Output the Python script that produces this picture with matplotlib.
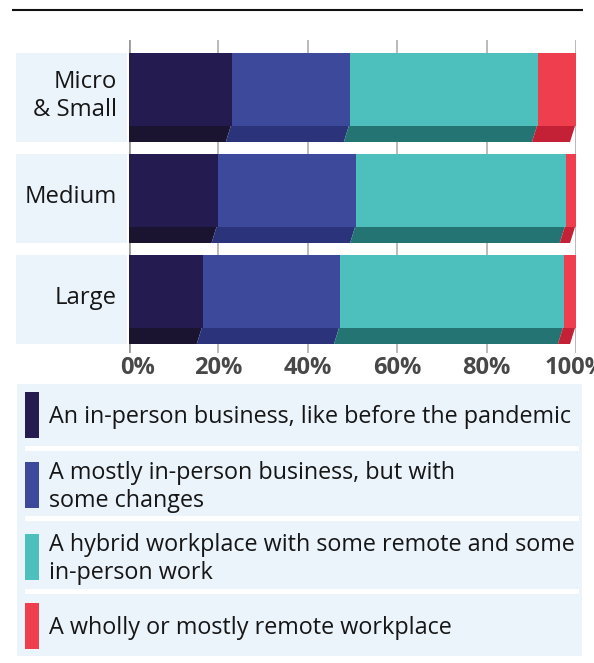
import matplotlib
matplotlib.use("Agg")
import matplotlib.pyplot as plt
from matplotlib.patches import Rectangle, Polygon
from matplotlib.transforms import ScaledTranslation
import numpy as np

# ---------------- data ----------------
categories = ["Micro\n& Small", "Medium", "Large"]
series_names = [
    "An in-person business, like before the pandemic",
    "A mostly in-person business, but with\nsome changes",
    "A hybrid workplace with some remote and some\nin-person work",
    "A wholly or mostly remote workplace",
]
in_person = [23.0, 19.8, 16.5]
mostly_in_person = [26.4, 31.0, 30.7]
hybrid = [42.1, 46.9, 50.1]
remote = [8.5, 2.3, 2.7]
tick_values = [0, 20, 40, 60, 80, 100]
tick_labels = ["0%", "20%", "40%", "60%", "80%", "100%"]

face_colors = ["#241c50", "#3d4a9b", "#4dc0bd", "#ef3f4f"]
strip_colors = ["#1b1430", "#2b347a", "#237473", "#c42137"]

FONT = "Open Sans"
W, H = 594, 663
fig = plt.figure(figsize=(W / 100, H / 100), dpi=100)

# background overlay axes in pixel coordinates
bg = fig.add_axes([0, 0, 1, 1], zorder=0)
bg.set_xlim(0, W)
bg.set_ylim(H, 0)
bg.axis("off")

# top rule
bg.plot([12, 583], [10, 10], color="#111111", lw=1.5, solid_capstyle="butt")

# main axes: x 129..576 px, y 40..353 px
x0, x1 = 129, 576
y0, y1 = 40, 353
ax = fig.add_axes([x0 / W, 1 - y1 / H, (x1 - x0) / W, (y1 - y0) / H], zorder=1)
ax.patch.set_alpha(0)
pitch = 101.0
ax.set_xlim(0, 100)
ax.set_ylim(2 + (y1 - 299.5) / pitch, 0 - (97.5 - y0) / pitch)
for s in ax.spines.values():
    s.set_visible(False)

px = 100 / (x1 - x0)  # data units per pixel in x
bar_h = 89 / pitch
face_h = 73 / pitch

# gridlines
for t in tick_values:
    if t == 0:
        ax.axvline(t, color="#9a9a9a", lw=2.0, zorder=0)
    else:
        ax.axvline(t, color="#b4b4b4", lw=1.3, zorder=0)

series = [in_person, mostly_in_person, hybrid, remote]
n = len(categories)
ypos = np.arange(n)
lefts = np.zeros(n)
d_top, d_bot = 1.0 * px, 6.0 * px
for k, vals in enumerate(series):
    vals = np.array(vals)
    ax.barh(ypos - bar_h / 2, vals, left=lefts, height=face_h, align="edge",
            color=face_colors[k], edgecolor="none", zorder=2)
    for i in range(n):
        a = lefts[i]
        b = lefts[i] + vals[i]
        yt = ypos[i] - bar_h / 2 + face_h
        yb = ypos[i] + bar_h / 2
        la_t = a if k == 0 else a - d_top
        la_b = a if k == 0 else a - d_bot
        poly = Polygon([(la_t, yt), (b - d_top, yt), (b - d_bot, yb), (la_b, yb)],
                       closed=True, facecolor=strip_colors[k], edgecolor="none", zorder=2)
        ax.add_patch(poly)
    lefts = lefts + vals

# category label backgrounds and labels
for i, cat in enumerate(categories):
    ax.add_patch(Rectangle((-(129 - 16) * px, ypos[i] - bar_h / 2), (129 - 16 - 2) * px, bar_h,
                           facecolor="#ebf3fb", edgecolor="none", clip_on=False, zorder=1))
    ax.text(-(129 - 117) * px, ypos[i] - 0.015, cat, ha="right", va="center",
            fontsize=17.2, family=FONT, color="#161616", linespacing=1.18, clip_on=False)

# ticks
ax.set_yticks([])
ax.set_xticks(tick_values, tick_labels)
ax.tick_params(axis="x", length=0, pad=2.5, labelsize=17, labelcolor="#484848")
for lab in ax.get_xticklabels():
    lab.set_fontfamily(FONT)
    lab.set_fontweight("bold")
ax.get_xticklabels()[0].set_transform(ax.get_xticklabels()[0].get_transform()
                                      + ScaledTranslation(9 / 100, 0, fig.dpi_scale_trans))

# legend panel
bg.add_patch(Rectangle((17, 384), 582 - 17, 656 - 384, facecolor="#ebf3fb", edgecolor="none"))
for ys in [446, 516, 589]:
    bg.add_patch(Rectangle((25, ys), 579 - 25, 4.5, facecolor="white", edgecolor="none"))
sw_tops = [392, 462, 534, 603]
for k, name in enumerate(series_names):
    bg.add_patch(Rectangle((25, sw_tops[k]), 14, 46, facecolor=face_colors[k], edgecolor="none"))
    bg.text(49, sw_tops[k] + 25, name, ha="left", va="center", fontsize=16.8,
            family=FONT, color="#161616", linespacing=1.2)

fig.savefig("out.png", dpi=100)
